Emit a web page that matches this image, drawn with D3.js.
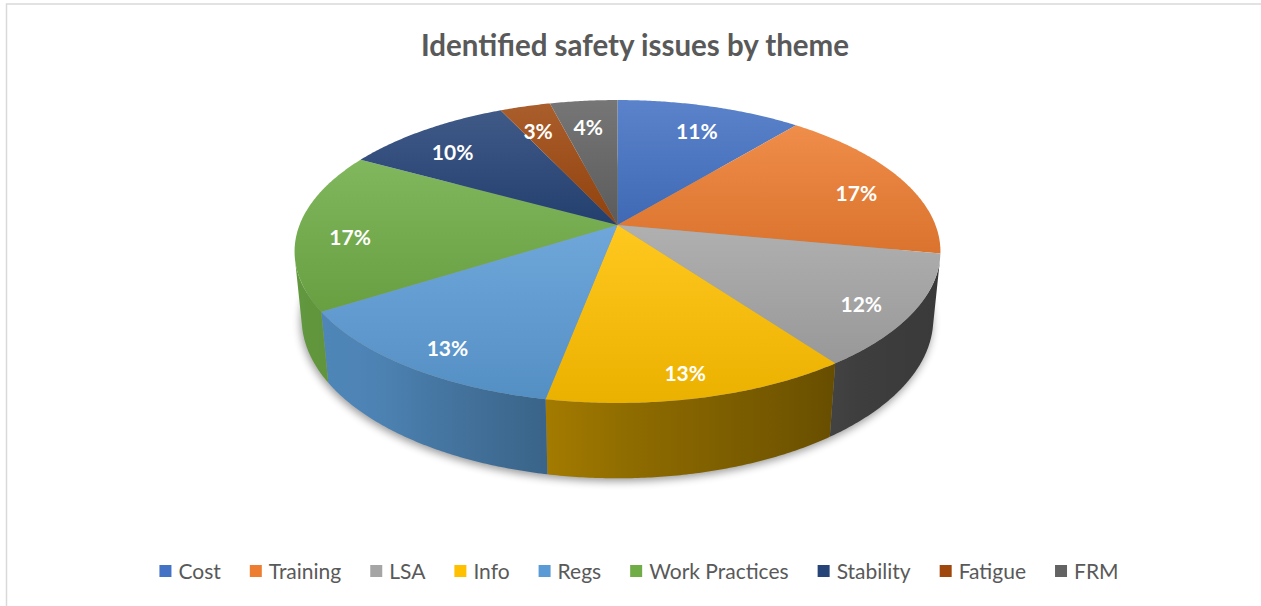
<!DOCTYPE html>
<html>
<head>
<meta charset="utf-8">
<script src="https://cdn.jsdelivr.net/npm/d3@7"></script>
<style>
  html, body { margin: 0; padding: 0; background: #ffffff; }
  svg { display: block; }
</style>
</head>
<body>
<svg id="chart" width="1261" height="606"></svg>
<script>
// Identified safety issues, share of each theme (%)
const categories = ["Cost", "Training", "LSA", "Info", "Regs", "Work Practices", "Stability", "Fatigue", "FRM"];
const shares = [11, 17, 12, 13, 13, 17, 10, 3, 4];
const palette = ["#4472C4", "#ED7D31", "#A5A5A5", "#FFC000", "#5B9BD5", "#70AD47", "#264478", "#9E480E", "#636363"];
const chartTitle = "Identified safety issues by theme";

const W = 1261, H = 606;
const svg = d3.select("#chart");
const defs = svg.append("defs");

// chart frame (only top and left edges fall inside the page)
svg.append("rect")
  .attr("x", 6.5).attr("y", 4).attr("width", W + 20).attr("height", H + 20)
  .attr("fill", "none").attr("stroke", "#d9d9d9").attr("stroke-width", 1.5);

// title
svg.append("text")
  .attr("x", 635).attr("y", 56)
  .attr("text-anchor", "middle")
  .attr("font-family", "Lato, 'Open Sans', sans-serif")
  .attr("font-weight", "bold")
  .attr("font-size", 29.5)
  .attr("fill", "#595959")
  .text(chartTitle);

// ---- 3D pie: a unit-radius disc viewed in perspective ----
const cam = { cx: 617.5, cy: 225, F: 1612, D: 5.07, tilt: Math.asin(0.4618), thick: 0.24 };
const sT = Math.sin(cam.tilt), cT = Math.cos(cam.tilt);

// theta clockwise from the far point, rx/rz radial scale, y height (up positive)
function project(theta, rx, y, rz = rx) {
  const X = rx * Math.sin(theta), Z = rz * Math.cos(theta);
  const depth = cam.D + Z * cT - y * sT;
  const v = y * cT + Z * sT;
  return [cam.cx + cam.F * X / depth, cam.cy - cam.F * v / depth];
}

function rim(t0, t1, y) {
  const n = Math.max(2, Math.ceil(Math.abs(t1 - t0) / (Math.PI / 360)));
  return d3.range(n + 1).map(i => project(t0 + (t1 - t0) * i / n, 1, y));
}

const pie = d3.pie().sort(null).value(d => d).startAngle(0).endAngle(2 * Math.PI);
const arcs = pie(shares);

const line = d3.line();

// soft shadow under the disc
const shadow = defs.append("filter").attr("id", "pieShadow")
  .attr("x", "-20%").attr("y", "-20%").attr("width", "140%").attr("height", "140%");
shadow.append("feGaussianBlur").attr("stdDeviation", 4);

const outline = rim(0, 2 * Math.PI, -cam.thick);
svg.append("path")
  .attr("d", line(outline) + "Z")
  .attr("transform", "translate(-1,3)")
  .attr("fill", "#000").attr("opacity", 0.4)
  .attr("filter", "url(#pieShadow)");

// visible part of the outer wall: where its normal faces the camera
const visStart = Math.acos(-1 / (cam.D * cT));
const visEnd = 2 * Math.PI - visStart;

const wallLight = d3.scaleLinear()
  .domain([100, 137, 180, 222, 260].map(d => d * Math.PI / 180))
  .range([0.34, 0.37, 0.57, 0.85, 0.88])
  .clamp(true);

function shade(color, k) {
  const c = d3.rgb(color);
  return d3.rgb(c.r * k, c.g * k, c.b * k).formatHex();
}

const walls = svg.append("g");
arcs.forEach((a, i) => {
  const t0 = Math.max(a.startAngle, visStart), t1 = Math.min(a.endAngle, visEnd);
  if (t1 <= t0) return;
  const top = rim(t0, t1, 0);
  const bottom = rim(t1, t0, -cam.thick);
  const xa = project(t0, 1, 0)[0], xb = project(t1, 1, 0)[0];
  const g = defs.append("linearGradient")
    .attr("id", "wall" + i).attr("gradientUnits", "userSpaceOnUse")
    .attr("x1", xa).attr("y1", 0).attr("x2", xb).attr("y2", 0);
  d3.range(9).forEach(j => {
    const t = t0 + (t1 - t0) * j / 8;
    const x = project(t, 1, 0)[0];
    g.append("stop")
      .attr("offset", Math.max(0, Math.min(1, (x - xa) / (xb - xa))))
      .attr("stop-color", shade(palette[i], wallLight(t)));
  });
  walls.append("path")
    .attr("d", line(top.concat(bottom)) + "Z")
    .attr("fill", `url(#wall${i})`);
});

// top faces
const tops = svg.append("g");
arcs.forEach((a, i) => {
  const g = defs.append("linearGradient")
    .attr("id", "top" + i).attr("x1", 0).attr("y1", 0).attr("x2", 0).attr("y2", 1);
  g.append("stop").attr("offset", 0).attr("stop-color", d3.interpolateRgb(palette[i], "#ffffff")(0.12));
  g.append("stop").attr("offset", 1).attr("stop-color", shade(palette[i], 0.92));
  const pts = [project(0, 0, 0)].concat(rim(a.startAngle, a.endAngle, 0));
  tops.append("path")
    .attr("d", line(pts) + "Z")
    .attr("fill", `url(#top${i})`);
});

// value labels
const labels = svg.append("g")
  .attr("font-family", "Lato, 'Open Sans', sans-serif")
  .attr("font-weight", "bold")
  .attr("font-size", 21)
  .attr("fill", "#ffffff")
  .attr("text-anchor", "middle");
arcs.forEach(a => {
  const mid = (a.startAngle + a.endAngle) / 2;
  const [x, y] = project(mid, 0.84, -0.03, 0.83);
  labels.append("text")
    .attr("x", x).attr("y", y)
    .attr("dy", "0.36em")
    .text(a.data + "%");
});

// legend
const legend = svg.append("g")
  .attr("font-family", "Lato, 'Open Sans', sans-serif")
  .attr("font-size", 21)
  .attr("fill", "#595959");
const items = categories.map((c, i) => {
  const g = legend.append("g");
  g.append("rect").attr("x", 0).attr("y", -6).attr("width", 12).attr("height", 12).attr("fill", palette[i]);
  const t = g.append("text").attr("x", 19).attr("y", 0).attr("dy", "0.36em").text(c);
  return { g, w: 19 + t.node().getComputedTextLength() };
});
const gap = 29;
const total = d3.sum(items, d => d.w) + gap * (items.length - 1);
let lx = 639 - total / 2;
items.forEach(it => {
  it.g.attr("transform", `translate(${lx},571)`);
  lx += it.w + gap;
});
</script>
</body>
</html>
